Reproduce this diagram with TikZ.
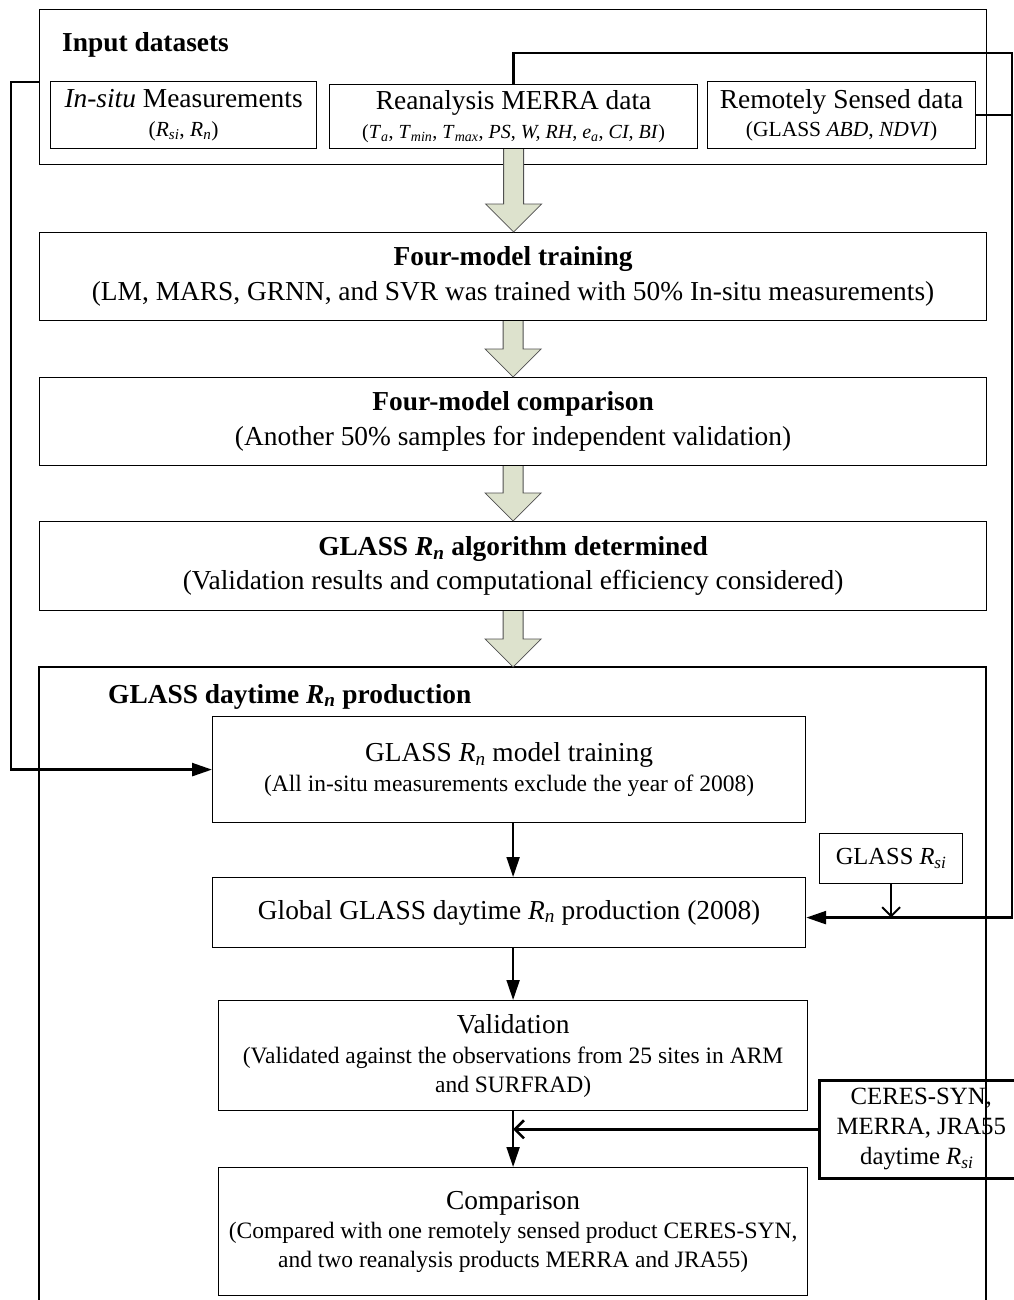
\documentclass[tikz,border=0pt]{standalone}
\usepackage{fontspec}
\setmainfont{Liberation Serif}
\usetikzlibrary{arrows.meta,calc}
\newcommand{\Sb}[2]{\textit{#1}\textsubscript{\textit{#2}}}
\newcommand{\fMain}{\fontsize{27.4}{31.5}\selectfont}
\newcommand{\fSub}{\fontsize{23.5}{28.5}\selectfont}
\newcommand{\fPar}{\fontsize{20}{24}\selectfont}
\newcommand{\fRs}{\fontsize{21.5}{26}\selectfont}
\definecolor{fatfill}{RGB}{221,226,205}
\definecolor{fatline}{RGB}{80,80,80}
\newcommand{\fatarrow}[2]{%
  \draw[fat] let \p1=(#1), \p2=(#2) in
  (\x1-10pt,\y1) -- (\x1-10pt,\y2+28pt) -- (\x1-28pt,\y2+28pt) -- (\x1,\y2)
  -- (\x1+28pt,\y2+28pt) -- (\x1+10pt,\y2+28pt) -- (\x1+10pt,\y1);}
\begin{document}
\begin{tikzpicture}[x=1pt,y=-1pt,
  box/.style={draw, line width=1.2pt, inner sep=0pt, align=center, anchor=north west, font=\fMain},
  frame/.style={draw, line width=1.2pt},
  conn/.style={line width=2.6pt, line join=miter},
  vconn/.style={line width=2pt},
  tri/.style={-{Triangle[length=20pt,width=13pt]}},
  barb/.style={-{Straight Barb[length=9pt,width=18pt]}},
  fat/.style={fill=fatfill, draw=fatline, line width=0.8pt, line join=miter}
]
\useasboundingbox (0,0) rectangle (1013,1300);

% ---- input datasets
\node[box, minimum width=947pt, minimum height=155pt] (inp) at (39,9) {};
\node[anchor=base west, font=\fMain\bfseries, inner sep=0pt] (tin) at (62,52) {Input datasets};
\node[box, minimum width=266pt, minimum height=67pt] (insitu) at (50,81)
  {\textit{In-situ} Measurements\\[-3pt]{\fRs(\Sb{R}{si}, \Sb{R}{n})}};
\node[box, minimum width=368pt, minimum height=64pt] (rean) at (329,84)
  {Reanalysis MERRA data\\[-3pt]{\fPar(\Sb{T}{a}, \Sb{T}{min}, \Sb{T}{max}, \textit{PS}, \textit{W, RH}, \Sb{e}{a}, \textit{CI, BI})}};
\node[box, minimum width=268pt, minimum height=67pt] (remote) at (707,81)
  {Remotely Sensed data\\[-3pt]{\fRs(GLASS \textit{ABD}, \textit{NDVI})}};

% ---- training / comparison / algorithm
\node[box, minimum width=947pt, minimum height=88pt] (train) at (39,232)
  {\textbf{Four-model training}\\[3pt](LM, MARS, GRNN, and SVR was trained with 50\% In-situ measurements)};
\node[box, minimum width=947pt, minimum height=88pt] (cmp) at (39,377)
  {\textbf{Four-model comparison}\\[3pt](Another 50\% samples for independent validation)};
\node[box, minimum width=947pt, minimum height=89pt] (alg) at (39,521)
  {\textbf{GLASS \Sb{R}{n} algorithm determined}\\[3pt](Validation results and computational efficiency considered)};

% ---- production frame
\draw[frame] (39,1300) -- (39,667) -- (986,667) -- (986,1300);
\coordinate (prodN) at (512.5,667);
\node[anchor=base west, font=\fMain\bfseries, inner sep=0pt] (tprod) at (108,703) {GLASS daytime \Sb{R}{n} production};

\node[box, minimum width=593pt, minimum height=106pt, font=\fSub] (mtrain) at (212,716)
  {{\fMain GLASS \Sb{R}{n} model training}\\[1pt](All in-situ measurements exclude the year of 2008)};
\node[box, minimum width=593pt, minimum height=70pt] (glob) at (212,877)
  {Global GLASS daytime \Sb{R}{n} production (2008)};
\node[box, minimum width=143pt, minimum height=50pt, font=\fontsize{24.5}{29}\selectfont] (rsi) at (819,833) {GLASS \Sb{R}{si}};
\node[box, minimum width=589pt, minimum height=110pt, font=\fSub] (valid) at (218,1000)
  {{\fMain Validation}\\[2pt](Validated against the observations from 25 sites in ARM\\and SURFRAD)};
\node[box, minimum width=589pt, minimum height=128pt, font=\fSub] (fcomp) at (218,1167)
  {{\fMain Comparison}\\[1pt](Compared with one remotely sensed product CERES-SYN,\\and two reanalysis products MERRA and JRA55)};
\node[box, line width=2.6pt, minimum width=204pt, minimum height=98pt, font=\fontsize{24.8}{30}\selectfont] (ceres) at (818,1079)
  {CERES-SYN,\\MERRA, JRA55\\daytime \Sb{R}{si}\hspace*{9pt}};

% ---- fat arrows
\fatarrow{rean.south}{train.north}
\fatarrow{train.south}{cmp.north}
\fatarrow{cmp.south}{alg.north}
\fatarrow{alg.south}{prodN}

% ---- connectors
\coordinate (rc) at (1012,53);
\coordinate (lc) at (11,82);
\coordinate (gE) at ([yshift=-5pt]glob.east);
\draw[conn, tri] (rean.north) |- (rc) |- (gE);
\draw[conn] (remote.east) -- (remote.east -| rc);
\draw[conn, tri] (inp.west |- lc) -- (lc) |- (mtrain.west);
\draw[vconn, barb] (rsi.south) -- (rsi.south |- gE);
\draw[vconn, tri] (mtrain.south -| valid.north) -- (glob.north -| valid.north);
\draw[vconn, tri] (glob.south -| valid.north) -- (valid.north);
\draw[vconn, tri] (valid.south) -- (fcomp.north);
\draw[conn, barb] (ceres.west) -- (ceres.west -| valid.south);
\end{tikzpicture}
\end{document}
